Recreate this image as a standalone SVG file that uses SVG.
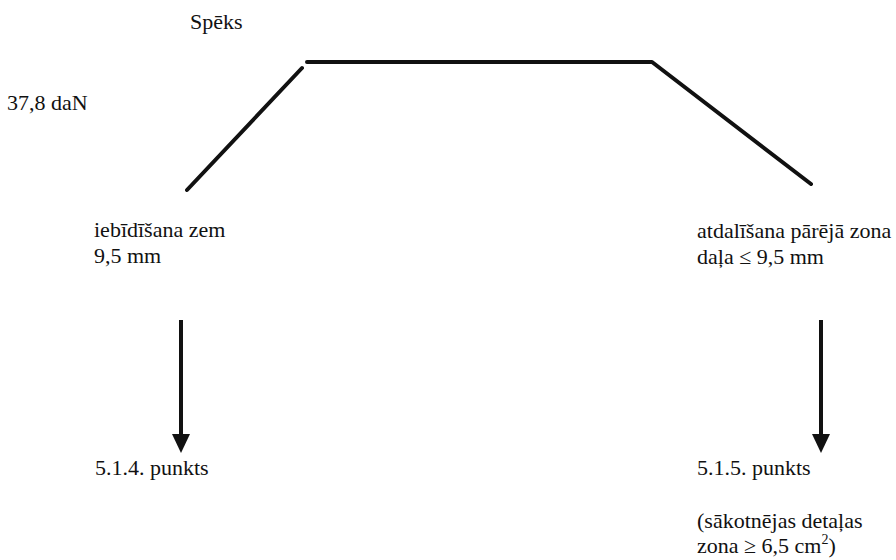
<svg xmlns="http://www.w3.org/2000/svg" width="896" height="560" viewBox="0 0 896 560">
  <style>
    .t { font-family: "Liberation Serif", "DejaVu Serif", "Noto Serif", serif; font-size: 22px; fill: #111; }
    .ln { stroke: #111; stroke-width: 4; fill: none; stroke-linecap: round; stroke-linejoin: round; }
    .ar { stroke: #111; stroke-width: 4; fill: none; }
  </style>
  <defs>
    <marker id="head" markerWidth="19" markerHeight="18" refX="0" refY="9" orient="auto" markerUnits="userSpaceOnUse">
      <path d="M0,0 L19,9 L0,18 Z" fill="#111"/>
    </marker>
  </defs>
  <rect width="896" height="560" fill="#fff"/>

  <g id="force-label">
    <text class="t" x="190" y="29">Spēks</text>
    <text class="t" x="7" y="110">37,8 daN</text>
  </g>

  <g id="connectors">
    <!-- force curve: rise, plateau, drop -->
    <polyline class="ln" points="187,190 302,68"/>
    <polyline class="ln" points="307,62 652,62 811,184"/>
    <!-- arrows down to the clauses -->
    <line class="ar" x1="181" y1="320" x2="181" y2="434" marker-end="url(#head)"/>
    <line class="ar" x1="821" y1="320" x2="821" y2="434" marker-end="url(#head)"/>
  </g>

  <g id="left-branch">
    <text class="t" x="94" y="237">iebīdīšana zem</text>
    <text class="t" x="94" y="263">9,5 mm</text>
  </g>

  <g id="right-branch">
    <text class="t" x="697" y="238">atdalīšana pārējā zona</text>
    <text class="t" x="697" y="264">daļa ≤ 9,5 mm</text>
  </g>

  <g id="clause-514">
    <text class="t" x="95" y="475">5.1.4. punkts</text>
  </g>

  <g id="clause-515">
    <text class="t" x="697" y="475">5.1.5. punkts</text>
    <text class="t" x="697" y="528">(sākotnējas detaļas</text>
    <text class="t" x="697" y="553">zona ≥ 6,5 cm<tspan font-size="14" dy="-9">2</tspan><tspan dy="9">)</tspan></text>
  </g>
</svg>
